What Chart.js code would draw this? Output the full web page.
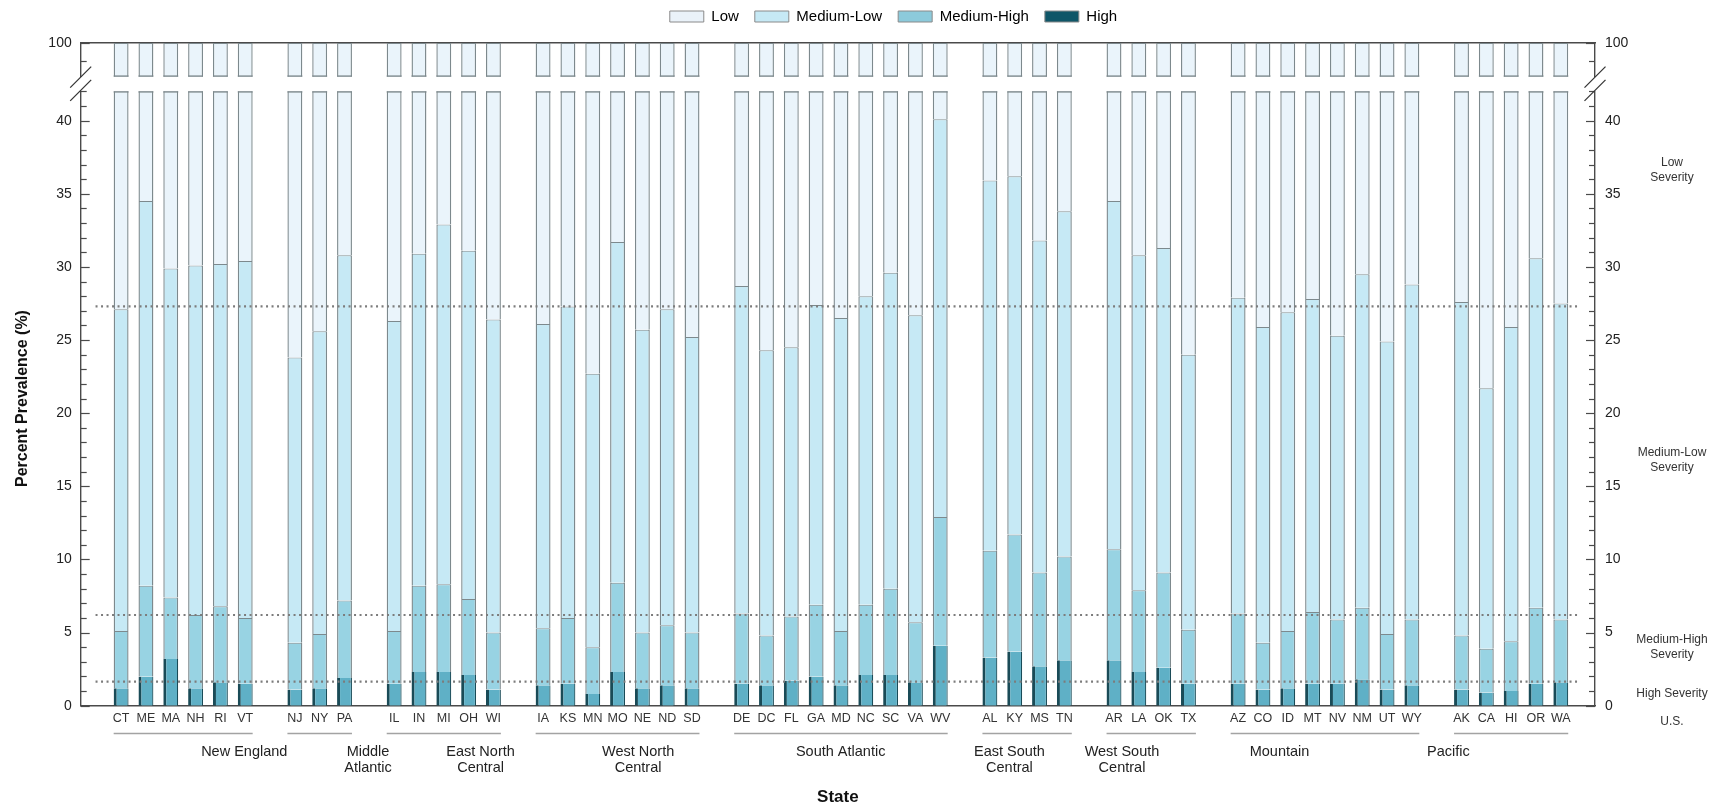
<!DOCTYPE html>
<html>
<head>
<meta charset="utf-8">
<title>Percent prevalence by state and severity</title>
<script src="https://cdn.jsdelivr.net/npm/chart.js@4.4.1/dist/chart.umd.min.js"></script>
<style>
  html, body { margin: 0; padding: 0; background: #fff; }
  #wrap { position: relative; width: 1717px; height: 810px; overflow: hidden; }
  #bottomBox { position: absolute; left: 0; top: 73px; }
  #topBox { position: absolute; left: 0; top: -7px; }
</style>
</head>
<body>
<div id="wrap">
  <div id="bottomBox"><canvas id="bottomChart" width="1717" height="737"></canvas></div>
  <div id="topBox"><canvas id="topChart" width="1717" height="102"></canvas></div>
</div>
<script>
// ---- data ----
const states = ['CT','ME','MA','NH','RI','VT',
  'NJ','NY','PA',
  'IL','IN','MI','OH','WI',
  'IA','KS','MN','MO','NE','ND','SD',
  'DE','DC','FL','GA','MD','NC','SC','VA','WV',
  'AL','KY','MS','TN',
  'AR','LA','OK','TX',
  'AZ','CO','ID','MT','NV','NM','UT','WY',
  'AK','CA','HI','OR','WA'];

const regionNames = [['New England'], ['Middle', 'Atlantic'], ['East North', 'Central'],
  ['West North', 'Central'], ['South Atlantic'], ['East South', 'Central'],
  ['West South', 'Central'], ['Mountain'], ['Pacific']];
const regionSizes = [6, 3, 5, 7, 9, 4, 4, 8, 5];

const severityNames = ['Low', 'Medium-Low', 'Medium-High', 'High'];

// cumulative top of each band (%)
const highTop = [1.2, 2.0, 3.2, 1.2, 1.6, 1.5,
  1.1, 1.2, 1.9,
  1.5, 2.3, 2.3, 2.1, 1.1,
  1.4, 1.5, 0.8, 2.3, 1.2, 1.4, 1.2,
  1.5, 1.4, 1.7, 2.0, 1.4, 2.1, 2.1, 1.6, 4.1,
  3.3, 3.7, 2.7, 3.1,
  3.1, 2.3, 2.6, 1.5,
  1.5, 1.1, 1.2, 1.5, 1.5, 1.8, 1.1, 1.4,
  1.1, 0.9, 1.0, 1.5, 1.6];

const medHighTop = [5.1, 8.2, 7.4, 6.2, 6.8, 6.0,
  4.3, 4.9, 7.2,
  5.1, 8.2, 8.3, 7.3, 5.0,
  5.3, 6.0, 4.0, 8.4, 5.0, 5.5, 5.0,
  6.3, 4.8, 6.1, 6.9, 5.1, 6.9, 8.0, 5.7, 12.9,
  10.6, 11.7, 9.1, 10.2,
  10.7, 7.9, 9.1, 5.2,
  6.3, 4.3, 5.1, 6.4, 5.9, 6.7, 4.9, 5.9,
  4.8, 3.9, 4.4, 6.7, 5.9];

const medLowTop = [27.1, 34.5, 29.9, 30.1, 30.2, 30.4,
  23.8, 25.6, 30.8,
  26.3, 30.9, 32.9, 31.1, 26.4,
  26.1, 27.3, 22.7, 31.7, 25.7, 27.1, 25.2,
  28.7, 24.3, 24.5, 27.4, 26.5, 28.0, 29.6, 26.7, 40.1,
  35.9, 36.2, 31.8, 33.8,
  34.5, 30.8, 31.3, 24.0,
  27.9, 25.9, 26.9, 27.8, 25.3, 29.5, 24.9, 28.8,
  27.6, 21.7, 25.9, 30.6, 27.5];

const TOTAL = 100;

// U.S. reference levels (Medium-Low, Medium-High, High tops)
const usLevels = [27.3, 6.2, 1.65];

// ---- layout helpers built from the arrays ----
// one empty slot between census divisions
const xPos = [];
const regionCenters = [];
let slot = 0;
regionSizes.forEach(n => {
  const first = slot;
  for (let i = 0; i < n; i++) xPos.push(slot++);
  regionCenters.push((first + slot - 1) / 2);
  slot++;
});

const X_MIN = -1.03, X_MAX = 58.78;
const AXIS_COLOR = '#4a4a4a';
const EDGE = '#7d898d';
const FONT = '"Liberation Sans", Arial, Helvetica, sans-serif';

Chart.defaults.font.family = FONT;
Chart.defaults.color = '#222';
Chart.defaults.animation = false;

const bandFill = ['#eaf4fb', '#c6e9f5', '#98d3e3', '#5fb0c6'];
const legendFill = ['#eaf2f9', '#c6e9f5', '#8ccadb', '#0f5668'];

function makeBars() {
  const lower = [medLowTop, medHighTop, highTop, states.map(() => 0)];
  const upper = [states.map(() => TOTAL), medLowTop, medHighTop, highTop];
  return severityNames.map((name, k) => ({
    label: name,
    data: states.map((s, i) => ({ x: xPos[i], y: [lower[k][i], upper[k][i]] })),
    backgroundColor: bandFill[k],
    borderColor: k === 3 ? '#1a4b57' : EDGE,
    borderWidth: k === 3 ? { left: 3, right: 1.2, top: 0 } : { left: 1.4, right: 1.4, top: 1 },
    borderSkipped: 'start',
    grouped: false,
    categoryPercentage: 1,
    barPercentage: 0.6
  }));
}

function stateTicks(scale) { scale.ticks = xPos.map(v => ({ value: v })); }
function regionTicks(scale) { scale.ticks = regionCenters.map(v => ({ value: v })); }

// tick marks drawn inward from the two value axes
const innerTicks = {
  id: 'innerTicks',
  afterDraw(chart) {
    const { ctx, chartArea } = chart;
    ctx.save();
    ctx.strokeStyle = AXIS_COLOR;
    ctx.lineWidth = 1.2;
    ['y', 'y2'].forEach(id => {
      const s = chart.scales[id];
      const isLeft = s.position === 'left';
      const x0 = isLeft ? chartArea.left : chartArea.right;
      s.ticks.forEach(t => {
        if (!Number.isInteger(t.value)) return;
        const len = t.value % 5 === 0 ? 9 : 6;
        const y = Math.round(s.getPixelForValue(t.value)) + 0.5;
        ctx.beginPath();
        ctx.moveTo(x0, y);
        ctx.lineTo(isLeft ? x0 + len : x0 - len, y);
        ctx.stroke();
      });
    });
    ctx.restore();
  }
};

// closes the cut bars and draws the // marks of the axis break
const breakMarks = {
  id: 'breakMarks',
  afterDraw(chart, args, opts) {
    const { ctx, chartArea } = chart;
    const y = opts.edge === 'bottom' ? chartArea.bottom - 0.5 : chartArea.top + 0.5;
    ctx.save();
    ctx.strokeStyle = EDGE;
    ctx.lineWidth = 1.4;
    chart.getDatasetMeta(0).data.forEach(bar => {
      ctx.beginPath();
      ctx.moveTo(bar.x - bar.width / 2, y);
      ctx.lineTo(bar.x + bar.width / 2, y);
      ctx.stroke();
    });
    const cy = opts.edge === 'bottom' ? chartArea.bottom + 0.5 : chartArea.top - 1;
    ctx.strokeStyle = '#333';
    ctx.lineWidth = 1.2;
    [chartArea.left, chartArea.right].forEach(cx => {
      ctx.beginPath();
      ctx.moveTo(cx - 10.5, cy + 10.5);
      ctx.lineTo(cx + 10.5, cy - 10.5);
      ctx.stroke();
    });
    ctx.restore();
  }
};

// division underlines below the state codes
const regionLines = {
  id: 'regionLines',
  afterDraw(chart) {
    const { ctx } = chart;
    const xs = chart.scales.x;
    const y = Math.round(chart.scales.region.top) + 0.5;
    const half = chart.getDatasetMeta(0).data[0].width / 2;
    ctx.save();
    ctx.strokeStyle = '#a3a3a3';
    ctx.lineWidth = 1.5;
    let start = 0;
    regionSizes.forEach(n => {
      ctx.beginPath();
      ctx.moveTo(xs.getPixelForValue(xPos[start]) - half, y);
      ctx.lineTo(xs.getPixelForValue(xPos[start + n - 1]) + half, y);
      ctx.stroke();
      start += n;
    });
    ctx.restore();
  }
};

// severity notes at the right edge
const sideNotes = {
  id: 'sideNotes',
  afterDraw(chart, args, opts) {
    const { ctx } = chart;
    const ys = chart.scales.y;
    ctx.save();
    ctx.font = '12px ' + FONT;
    ctx.fillStyle = '#333';
    ctx.textAlign = 'center';
    ctx.textBaseline = 'middle';
    opts.notes.forEach(n => {
      const cy = ys.getPixelForValue(n.at);
      n.text.forEach((t, k) => ctx.fillText(t, opts.x, cy + (k - (n.text.length - 1) / 2) * 15));
    });
    ctx.restore();
  }
};

// fixed legend height so the upper panel starts where it should,
// and legend centred a little right of the canvas middle as in the figure
const legendPlace = {
  id: 'legendPlace',
  beforeInit(chart) {
    const fit = chart.legend.fit;
    chart.legend.fit = function () {
      fit.call(this);
      this.height = 50;
    };
  },
  afterLayout(chart) {
    chart.legend.left = 70;
  }
};

const yTick = { font: { size: 14 }, color: '#222', autoSkip: false };

// ---- upper panel (around 100) ----
new Chart(document.getElementById('topChart'), {
  type: 'bar',
  data: { datasets: makeBars() },
  options: {
    responsive: false,
    layout: { padding: { left: 0, right: 0, top: 0, bottom: 0 } },
    plugins: {
      tooltip: { enabled: false },
      legend: {
        position: 'top',
        labels: {
          boxWidth: 34, boxHeight: 11, padding: 16,
          font: { size: 15 }, color: '#333',
          generateLabels: chart => chart.data.datasets.map((ds, i) => ({
            text: ds.label, fillStyle: legendFill[i], strokeStyle: '#8a8a8a',
            lineWidth: 1, hidden: false, datasetIndex: i
          }))
        }
      },
      breakMarks: { edge: 'bottom' }
    },
    scales: {
      x: {
        type: 'linear', position: 'top', min: X_MIN, max: X_MAX,
        afterBuildTicks: stateTicks,
        ticks: { display: false },
        grid: { display: false, drawTicks: false },
        border: { display: true, color: AXIS_COLOR, width: 1.4 },
        afterFit: s => { s.height = 0; }
      },
      y: {
        position: 'left', min: 98.1, max: 100,
        ticks: Object.assign({ stepSize: 1, padding: 9, callback: v => (v === 100 ? '100' : '') }, yTick),
        grid: { display: false, drawTicks: false },
        border: { display: true, color: AXIS_COLOR, width: 1.4 },
        afterFit: s => { s.width = 80.7; }
      },
      y2: {
        position: 'right', min: 98.1, max: 100,
        ticks: Object.assign({ stepSize: 1, padding: 10, callback: v => (v === 100 ? '100' : '') }, yTick),
        grid: { display: false, drawTicks: false },
        border: { display: true, color: AXIS_COLOR, width: 1.4 },
        afterFit: s => { s.width = 122; }
      }
    }
  },
  plugins: [legendPlace, innerTicks, breakMarks]
});

// ---- lower panel (0 to 42) ----
const usLines = usLevels.map(v => ({
  type: 'line',
  label: 'U.S.',
  data: [{ x: X_MIN, y: v }, { x: X_MAX, y: v }],
  borderColor: '#7c7c7c',
  borderWidth: 2.2,
  borderDash: [2, 3.5],
  pointRadius: 0,
  order: 0
}));

new Chart(document.getElementById('bottomChart'), {
  type: 'bar',
  data: { datasets: makeBars().map(d => Object.assign(d, { order: 1 })).concat(usLines) },
  options: {
    responsive: false,
    layout: { padding: { left: 0, right: 0, top: 0, bottom: 0 } },
    plugins: {
      tooltip: { enabled: false },
      legend: { display: false },
      breakMarks: { edge: 'top' },
      sideNotes: {
        x: 1672,
        notes: [
          { text: ['Low', 'Severity'], at: 36.6 },
          { text: ['Medium-Low', 'Severity'], at: 16.8 },
          { text: ['Medium-High', 'Severity'], at: 3.98 },
          { text: ['High Severity'], at: 0.8 },
          { text: ['U.S.'], at: -1.09 }
        ]
      }
    },
    scales: {
      x: {
        type: 'linear', position: 'bottom', min: X_MIN, max: X_MAX, weight: 0,
        afterBuildTicks: stateTicks,
        ticks: { autoSkip: false, maxRotation: 0, padding: 5, font: { size: 12.5 }, color: '#333',
          callback: (v, i) => states[i] },
        grid: { display: false, drawTicks: false },
        border: { display: true, color: AXIS_COLOR, width: 1.4 },
        afterFit: s => { s.height = 27; }
      },
      region: {
        type: 'linear', position: 'bottom', min: X_MIN, max: X_MAX, weight: 1,
        afterBuildTicks: regionTicks,
        ticks: { autoSkip: false, maxRotation: 0, padding: 11, font: { size: 14.5, lineHeight: 1.1 }, color: '#222',
          callback: (v, i) => regionNames[i] },
        grid: { display: false, drawTicks: false },
        border: { display: false },
        title: { display: true, text: 'State', color: '#111', font: { size: 17, weight: 'bold' },
          padding: { top: 0, bottom: 2 } },
        afterFit: s => { s.height = 77.3; }
      },
      y: {
        position: 'left', min: 0, max: 42,
        ticks: Object.assign({ stepSize: 1, padding: 9, callback: v => (v % 5 === 0 ? String(v) : '') }, yTick),
        grid: { display: false, drawTicks: false },
        border: { display: true, color: AXIS_COLOR, width: 1.4 },
        title: { display: true, text: 'Percent Prevalence (%)', color: '#111',
          font: { size: 16, weight: 'bold' }, padding: { top: 13, bottom: 0 } },
        afterFit: s => { s.width = 80.7; }
      },
      y2: {
        position: 'right', min: 0, max: 42,
        ticks: Object.assign({ stepSize: 1, padding: 10, callback: v => (v % 5 === 0 ? String(v) : '') }, yTick),
        grid: { display: false, drawTicks: false },
        border: { display: true, color: AXIS_COLOR, width: 1.4 },
        afterFit: s => { s.width = 122; }
      }
    }
  },
  plugins: [innerTicks, breakMarks, regionLines, sideNotes]
});
</script>
</body>
</html>
